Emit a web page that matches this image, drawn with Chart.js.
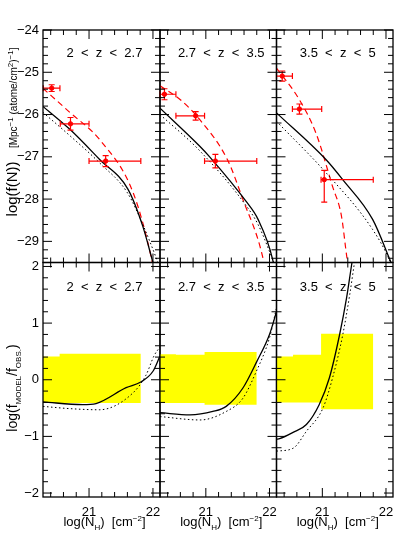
<!DOCTYPE html>
<html>
<head>
<meta charset="utf-8">
<script src="https://cdn.jsdelivr.net/npm/chart.js@4/dist/chart.umd.min.js"></script>
<style>
  body { margin: 0; background: #fff; }
  #wrap { position: relative; width: 415px; height: 553px; font-family: "Liberation Sans", "DejaVu Sans", sans-serif; color: #000; }
  canvas { position: absolute; left: 0; top: 0; }
  .lbl { position: absolute; font-size: 13px; white-space: pre; transform: translateX(-50%); line-height: 16px; }
  .ytitle { position: absolute; white-space: nowrap; transform: translate(-50%, -50%) rotate(-90deg); line-height: 16px; }
  sub, sup { font-size: 8px; line-height: 0; }
</style>
</head>
<body>
<div id="wrap"></div>
<script>
  const zLabels = ['2  <  z  <  2.7', '2.7  <  z  <  3.5', '3.5  <  z  <  5'];

  // top row: log f(N); observed points [x, y, xlo, xhi, ylo, yhi]
  const obsPoints = [
    [[20.416, -25.375, 20.285, 20.545, -25.455, -25.295], [20.71, -26.22, 20.55, 21.0, -26.37, -26.07], [21.26, -27.1, 21.0, 21.81, -27.23, -26.97]],
    [[20.35, -25.52, 20.28, 20.53, -25.65, -25.39], [20.84, -26.03, 20.53, 20.98, -26.13, -25.93], [21.15, -27.1, 20.98, 21.8, -27.26, -26.94]],
    [[20.37, -25.09, 20.28, 20.53, -25.21, -24.97], [20.64, -25.87, 20.53, 20.99, -25.99, -25.75], [21.03, -27.54, 20.98, 21.8, -28.07, -27.32]],
  ];
  const obsFit = [
    [[20.28, -25.38], [20.7, -25.95], [21.17, -26.6], [21.69, -27.85], [21.98, -29.43], [22.0, -29.6]],
    [[20.28, -25.32], [20.6, -25.65], [20.905, -26.12], [21.34, -27.07], [21.58, -28.0], [21.89, -29.35], [21.92, -29.6]],
    [[20.28, -24.9], [20.64, -25.65], [20.9, -26.44], [21.16, -27.7], [21.3, -28.4], [21.39, -29.43], [21.42, -29.7]],
  ];
  const modelSolid = [
    [[20.28, -25.81], [20.7, -26.35], [21.17, -27.07], [21.61, -27.77], [21.84, -28.64], [22.0, -29.5]],
    [[20.28, -25.85], [20.905, -26.75], [21.06, -27.0], [21.63, -28.05], [21.82, -28.48], [22.05, -29.43], [22.07, -29.6]],
    [[20.28, -25.96], [21.06, -27.07], [21.32, -27.54], [21.79, -28.48], [22.08, -29.5]],
  ];
  const modelDotted = [
    [[20.28, -25.95], [20.7, -26.5], [21.17, -27.15], [21.6, -27.85], [21.84, -28.6], [22.06, -29.43], [22.1, -29.6]],
    [[20.28, -26.0], [20.9, -26.85], [21.63, -28.15], [21.82, -28.6], [22.07, -29.5]],
    [[20.28, -26.16], [21.06, -27.38], [21.79, -28.72], [22.05, -29.43], [22.09, -29.6]],
  ];

  // bottom row: log(f_model / f_obs)
  const bandTop = [
    [[20.28, 0.41], [20.54, 0.41], [20.54, 0.46], [21.81, 0.46]],
    [[20.28, 0.45], [20.53, 0.45], [20.53, 0.44], [20.98, 0.44], [20.98, 0.49], [21.8, 0.49]],
    [[20.28, 0.41], [20.54, 0.41], [20.54, 0.44], [20.98, 0.44], [20.98, 0.81], [21.8, 0.81]],
  ];
  const bandBottom = [
    [[20.28, -0.41], [21.81, -0.41]],
    [[20.28, -0.41], [20.98, -0.41], [20.98, -0.44], [21.8, -0.44]],
    [[20.28, -0.4], [20.98, -0.4], [20.98, -0.52], [21.8, -0.52]],
  ];
  const ratioSolid = [
    [[20.28, -0.39], [20.9, -0.44], [21.11, -0.42], [21.58, -0.14], [21.81, -0.04], [22.0, 0.15], [22.11, 0.42]],
    [[20.28, -0.58], [20.75, -0.62], [21.11, -0.56], [21.32, -0.47], [21.58, -0.15], [21.8, 0.32], [22.0, 0.8], [22.11, 1.2]],
    [[20.28, -1.05], [20.33, -1.04], [20.54, -0.93], [20.75, -0.79], [20.95, -0.44], [21.11, 0.03], [21.27, 0.79], [21.38, 1.44], [21.46, 2.03], [21.47, 2.1]],
  ];
  const ratioDotted = [
    [[20.28, -0.47], [20.7, -0.51], [21.16, -0.53], [21.68, -0.24], [21.89, 0.08], [22.02, 0.43], [22.11, 0.58]],
    [[20.28, -0.65], [20.91, -0.71], [21.32, -0.56], [21.58, -0.33], [21.79, 0.14], [22.0, 0.74], [22.11, 1.27]],
    [[20.28, -1.26], [20.54, -1.21], [20.75, -0.91], [21.01, -0.5], [21.16, 0.03], [21.32, 0.79], [21.43, 1.5], [21.5, 2.03], [21.51, 2.1]],
  ];

  const xRange = [20.28, 22.11];
  const topRange = [-29.5, -24];
  const bottomRange = [-2.07, 2.07];
  const topYTicks = [-29, -28, -27, -26, -25, -24];
  const bottomYTicks = [-2, -1, 0, 1, 2];
  const xTicks = [21, 22];

  const colEdges = [43, 160, 276.5, 393];
  const rowEdges = [30, 262.5, 497];
  const W = 415, H = 553;
  const wrap = document.getElementById('wrap');

  const pts = (arr) => arr.map(([x, y]) => ({ x, y }));
  const fmt = (v) => (v < 0 ? '\u2212' + Math.abs(v) : String(v));

  // frame with inward ticks on all sides, plus tick labels
  const framePlugin = {
    id: 'frame',
    afterDraw(chart, args, opts) {
      const { ctx, chartArea: a, scales } = chart;
      const xs = scales.x, ys = scales.y;
      ctx.save();
      ctx.strokeStyle = '#000';
      ctx.lineWidth = 1.3;
      ctx.strokeRect(a.left, a.top, a.right - a.left, a.bottom - a.top);
      ctx.lineWidth = 1;
      ctx.beginPath();
      for (let i = Math.ceil(xs.min * 5); i <= Math.floor(xs.max * 5); i++) {
        const len = i % 5 === 0 ? 9 : 5;
        const px = xs.getPixelForValue(i / 5);
        ctx.moveTo(px, a.bottom); ctx.lineTo(px, a.bottom - len);
        ctx.moveTo(px, a.top); ctx.lineTo(px, a.top + len);
      }
      for (let i = Math.ceil(ys.min * 5); i <= Math.floor(ys.max * 5); i++) {
        const len = i % 5 === 0 ? 9 : 5;
        const py = ys.getPixelForValue(i / 5);
        ctx.moveTo(a.left, py); ctx.lineTo(a.left + len, py);
        ctx.moveTo(a.right, py); ctx.lineTo(a.right - len, py);
      }
      ctx.stroke();
      ctx.fillStyle = '#000';
      ctx.font = '13px "Liberation Sans", "DejaVu Sans", sans-serif';
      if (opts.yLabels) {
        ctx.textAlign = 'right';
        ctx.textBaseline = 'middle';
        opts.yLabels.forEach((v) => ctx.fillText(fmt(v), a.left - 4, ys.getPixelForValue(v)));
      }
      if (opts.xLabels) {
        ctx.textAlign = 'center';
        ctx.textBaseline = 'top';
        opts.xLabels.forEach((v) => ctx.fillText(String(v), xs.getPixelForValue(v), a.bottom + 9));
      }
      ctx.restore();
    },
  };

  // error bars for observed points
  const errPlugin = {
    id: 'errbars',
    afterDatasetsDraw(chart, args, opts) {
      if (!opts.points) return;
      const { ctx, scales: { x, y } } = chart;
      ctx.save();
      ctx.strokeStyle = '#ff0000';
      ctx.lineWidth = 1.2;
      ctx.beginPath();
      opts.points.forEach(([px, py, xlo, xhi, ylo, yhi]) => {
        const cx = x.getPixelForValue(px), cy = y.getPixelForValue(py);
        const l = x.getPixelForValue(xlo), r = x.getPixelForValue(xhi);
        const b = y.getPixelForValue(ylo), t = y.getPixelForValue(yhi);
        ctx.moveTo(l, cy); ctx.lineTo(r, cy);
        ctx.moveTo(l, cy - 3); ctx.lineTo(l, cy + 3);
        ctx.moveTo(r, cy - 3); ctx.lineTo(r, cy + 3);
        ctx.moveTo(cx, b); ctx.lineTo(cx, t);
        ctx.moveTo(cx - 3, b); ctx.lineTo(cx + 3, b);
        ctx.moveTo(cx - 3, t); ctx.lineTo(cx + 3, t);
      });
      ctx.stroke();
      ctx.restore();
    },
  };

  const line = (data, color, dash, width) => ({
    type: 'line', data: pts(data), borderColor: color, borderWidth: width || 1.2,
    borderDash: dash || [], pointRadius: 0, fill: false, cubicInterpolationMode: 'monotone', order: 1,
  });

  function makePanel(row, col) {
    const canvas = document.createElement('canvas');
    canvas.width = W; canvas.height = H;
    wrap.appendChild(canvas);
    let datasets;
    if (row === 0) {
      datasets = [
        line(modelDotted[col], '#000', [1.5, 2.5], 1),
        line(modelSolid[col], '#000', [], 1.3),
        line(obsFit[col], '#ff0000', [6, 4], 1.2),
        { type: 'scatter', data: obsPoints[col].map((p) => ({ x: p[0], y: p[1] })), order: 0,
          pointRadius: 2.2, pointBackgroundColor: '#ff0000', pointBorderColor: '#ff0000' },
      ];
    } else {
      datasets = [
        { type: 'line', data: pts(bandTop[col]), borderWidth: 0, pointRadius: 0, fill: '+1', order: 10,
          backgroundColor: '#ffff00', borderColor: '#ffff00' },
        { type: 'line', data: pts(bandBottom[col]), borderWidth: 0, pointRadius: 0, fill: false, order: 10,
          borderColor: '#ffff00' },
        line(ratioDotted[col], '#000', [1.5, 2.5], 1),
        line(ratioSolid[col], '#000', [], 1.3),
      ];
    }
    const range = row === 0 ? topRange : bottomRange;
    new Chart(canvas, {
      data: { datasets },
      options: {
        responsive: false,
        animation: false,
        layout: {
          padding: { left: colEdges[col], right: W - colEdges[col + 1], top: rowEdges[row], bottom: H - rowEdges[row + 1] },
        },
        plugins: {
          legend: { display: false },
          tooltip: { enabled: false },
          filler: { drawTime: 'beforeDatasetsDraw' },
          frame: {
            yLabels: col === 0 ? (row === 0 ? topYTicks : bottomYTicks) : null,
            xLabels: row === 1 ? xTicks : null,
          },
          errbars: { points: row === 0 ? obsPoints[col] : null },
        },
        scales: {
          x: { type: 'linear', min: xRange[0], max: xRange[1], display: false },
          y: { type: 'linear', min: range[0], max: range[1], display: false },
        },
      },
      plugins: [framePlugin, errPlugin],
    });
  }

  for (let r = 0; r < 2; r++) for (let c = 0; c < 3; c++) makePanel(r, c);

  // text overlays
  function addDiv(cls, html, style) {
    const d = document.createElement('div');
    d.className = cls; d.innerHTML = html;
    Object.assign(d.style, style);
    wrap.appendChild(d);
  }
  for (let c = 0; c < 3; c++) {
    const mid = (colEdges[c] + colEdges[c + 1]) / 2 + 3;
    addDiv('lbl', zLabels[c], { left: mid + 'px', top: '45px' });
    addDiv('lbl', zLabels[c], { left: mid + 'px', top: '279px' });
    addDiv('lbl', 'log(N<sub>H</sub>)  [cm<sup>\u22122</sup>]', { left: mid + 'px', top: '514px' });
  }
  addDiv('ytitle', '<span style="font-size:15px">log(f(N))</span>&nbsp;&nbsp;&nbsp;<span style="font-size:10px">[Mpc<sup>\u22121</sup> (atome/cm<sup>2</sup>)<sup>\u22121</sup>]</span>',
    { left: '13px', top: '132px' });
  addDiv('ytitle', '<span style="font-size:14px">log(f<sub>MODEL</sub>/f<sub>OBS.</sub>)</span>',
    { left: '12px', top: '388px' });
</script>
</body>
</html>
